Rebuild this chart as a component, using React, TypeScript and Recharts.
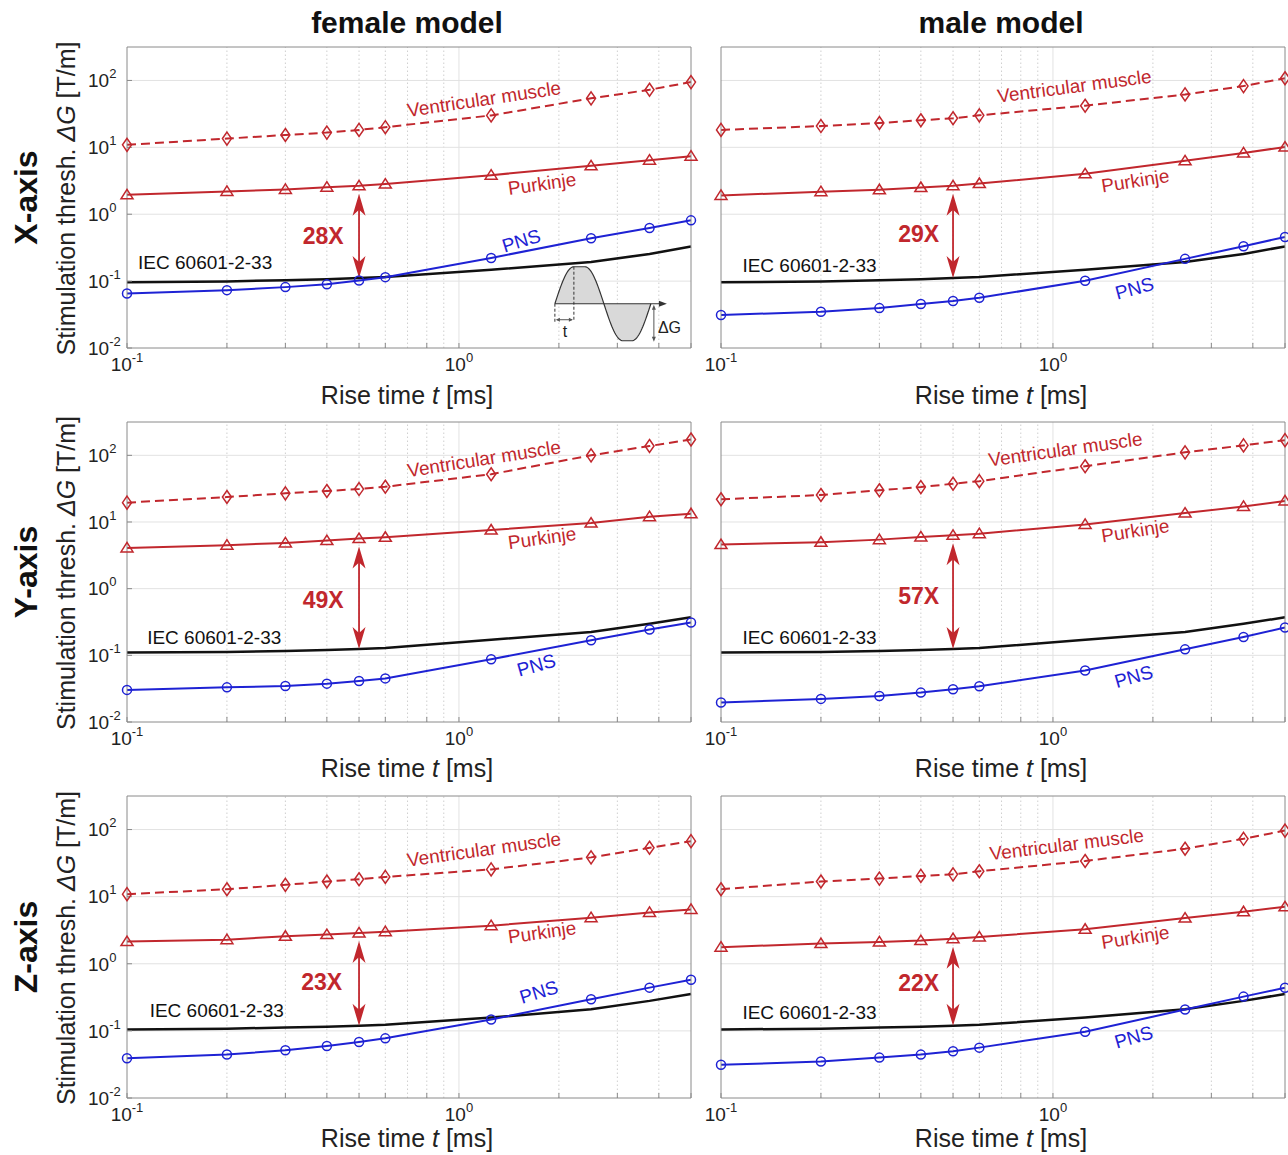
import React from 'react';
import { LineChart, Line, XAxis, YAxis, ReferenceLine, ReferenceDot } from 'recharts';

// rise time t [ms]
const riseTime = [0.1, 0.2, 0.3, 0.4, 0.5, 0.6, 1.25, 2.5, 3.75, 5];

// X-axis gradient coil
const femaleXVentricular = [10.9, 13.5, 15.3, 16.6, 18.2, 20.0, 30.0, 54.0, 72.6, 94.5];
const femaleXPurkinje = [1.95, 2.19, 2.35, 2.54, 2.66, 2.82, 3.84, 5.29, 6.43, 7.37];
const femaleXPns = [0.0654, 0.0733, 0.0813, 0.09, 0.102, 0.1146, 0.222, 0.436, 0.622, 0.81];
const maleXVentricular = [18.2, 20.8, 23.1, 25.4, 27.2, 30.1, 41.9, 61.8, 82.4, 108];
const maleXPurkinje = [1.91, 2.17, 2.32, 2.51, 2.66, 2.88, 4.02, 6.28, 8.26, 10.1];
const maleXPns = [0.0311, 0.0349, 0.0395, 0.0454, 0.0503, 0.0564, 0.101, 0.215, 0.332, 0.457];
const iecX = [0.096, 0.099, 0.103, 0.107, 0.111, 0.115, 0.148, 0.193, 0.255, 0.33];

// Y-axis gradient coil
const femaleYVentricular = [19.5, 23.7, 26.9, 29.2, 31.2, 33.8, 52.1, 100, 138, 173];
const femaleYPurkinje = [4.09, 4.49, 4.86, 5.27, 5.64, 5.9, 7.59, 9.64, 12.0, 13.3];
const femaleYPns = [0.0303, 0.0331, 0.0347, 0.0376, 0.0412, 0.0451, 0.0875, 0.168, 0.244, 0.31];
const maleYVentricular = [21.9, 25.4, 29.9, 33.4, 37.5, 41.0, 68.6, 111, 141, 169];
const maleYPurkinje = [4.59, 4.97, 5.44, 5.97, 6.31, 6.68, 9.2, 13.6, 17.1, 20.7];
const maleYPns = [0.0196, 0.0222, 0.0246, 0.0276, 0.031, 0.0343, 0.0593, 0.123, 0.188, 0.262];
const iecY = [0.11, 0.112, 0.116, 0.12, 0.124, 0.129, 0.171, 0.223, 0.297, 0.372];

// Z-axis gradient coil
const femaleZVentricular = [10.9, 12.9, 15.0, 16.8, 18.2, 19.7, 25.5, 38.5, 53.5, 67.1];
const femaleZPurkinje = [2.14, 2.29, 2.57, 2.72, 2.88, 3.01, 3.7, 4.86, 5.82, 6.45];
const femaleZPns = [0.0392, 0.0444, 0.0514, 0.0596, 0.0684, 0.0774, 0.148, 0.296, 0.441, 0.579];
const maleZVentricular = [12.9, 16.8, 18.6, 20.4, 21.5, 23.9, 34.0, 51.8, 72.8, 96.6];
const maleZPurkinje = [1.77, 2.0, 2.12, 2.22, 2.37, 2.51, 3.27, 4.8, 5.96, 7.06];
const maleZPns = [0.0312, 0.0349, 0.04, 0.0443, 0.0497, 0.0563, 0.0973, 0.208, 0.324, 0.44];
const iecZ = [0.105, 0.108, 0.112, 0.115, 0.119, 0.123, 0.158, 0.21, 0.28, 0.355];

const marginFactors = ['28X', '29X', '49X', '57X', '23X', '22X'];
const columnTitles = ['female model', 'male model'];
const rowTitles = ['X-axis', 'Y-axis', 'Z-axis'];

const xTicks = [0.1, 0.2, 0.3, 0.4, 0.5, 0.6, 0.7, 0.8, 0.9, 1, 2, 3, 4, 5];
const xMinorGrid = [0.2, 0.3, 0.4, 0.5, 0.6, 0.7, 0.8, 0.9, 2, 3, 4];
const yTicks = [0.01, 0.1, 1, 10, 100];
const xDomain = [0.1, 5];
const yDomain = [0.01, 316.2];

const RED = '#c1272d';
const BLUE = '#1e22d4';
const BLACK = '#111';
const AXIS = '#8a8a8a';
const FONT = '"Liberation Sans", Arial, Helvetica, sans-serif';

const colPlotLeft = [127, 721];
const rowPlotTop = [47, 422, 796];
const rowPlotHeight = [301, 300, 302];
const xLabelBaseline = [404, 777, 1147];
const PLOT_W = 564;
// plot area starts at 70/10; the 1px axes sit inside these offsets
const M = { top: 9, right: 9, bottom: 39, left: 69 };
const PL = 70;
const PT = 10;

// label anchors in data coordinates, one entry per panel
const labelAnchors = [
  { vent: [1.19, 52.6, -8.5], purk: [1.78, 2.85, -8], pns: [1.54, 0.4, -17], iec: [0.108, 0.189], factor: [0.39, 0.48] },
  { vent: [1.16, 82, -7.5], purk: [1.77, 3.16, -9], pns: [1.76, 0.078, -15], iec: [0.116, 0.17], factor: [0.394, 0.51] },
  { vent: [1.19, 89, -9], purk: [1.78, 5.75, -8], pns: [1.71, 0.071, -16], iec: [0.115, 0.187], factor: [0.39, 0.68] },
  { vent: [1.09, 123, -8], purk: [1.77, 7.4, -9], pns: [1.75, 0.048, -16], iec: [0.116, 0.187], factor: [0.394, 0.77] },
  { vent: [1.19, 50.6, -8], purk: [1.78, 2.94, -8], pns: [1.74, 0.38, -17], iec: [0.117, 0.204], factor: [0.386, 0.54] },
  { vent: [1.1, 60, -7], purk: [1.77, 2.48, -9], pns: [1.75, 0.081, -16], iec: [0.116, 0.186], factor: [0.394, 0.51] },
];

const panels = [
  { vent: femaleXVentricular, purk: femaleXPurkinje, pns: femaleXPns, iec: iecX },
  { vent: maleXVentricular, purk: maleXPurkinje, pns: maleXPns, iec: iecX },
  { vent: femaleYVentricular, purk: femaleYPurkinje, pns: femaleYPns, iec: iecY },
  { vent: maleYVentricular, purk: maleYPurkinje, pns: maleYPns, iec: iecY },
  { vent: femaleZVentricular, purk: femaleZPurkinje, pns: femaleZPns, iec: iecZ },
  { vent: maleZVentricular, purk: maleZPurkinje, pns: maleZPns, iec: iecZ },
];

const isDecade = (v: number) => {
  const l = Math.log10(v);
  return Math.abs(l - Math.round(l)) < 1e-6;
};

const diamondDot = (p: any) => (
  <path
    key={`dm${p.index}`}
    d={`M${p.cx},${p.cy - 6.5}L${p.cx + 4.5},${p.cy}L${p.cx},${p.cy + 6.5}L${p.cx - 4.5},${p.cy}Z`}
    fill="none"
    stroke={RED}
    strokeWidth={1.5}
  />
);

const triangleDot = (p: any) => (
  <path
    key={`tr${p.index}`}
    d={`M${p.cx},${p.cy - 5.5}L${p.cx + 6},${p.cy + 4}L${p.cx - 6},${p.cy + 4}Z`}
    fill="none"
    stroke={RED}
    strokeWidth={1.5}
  />
);

const circleDot = (p: any) => (
  <circle key={`c${p.index}`} cx={p.cx} cy={p.cy} r={4.5} fill="none" stroke={BLUE} strokeWidth={1.5} />
);

function DoubleArrow(p: any) {
  const x = p.x1;
  const top = Math.min(p.y1, p.y2) + 8;
  const bot = Math.max(p.y1, p.y2);
  const len = 22;
  return (
    <g>
      <line x1={x} y1={top + 12} x2={x} y2={bot - 12} stroke={RED} strokeWidth={1.8} />
      <path d={`M${x},${top}L${x + 6.5},${top + len}L${x},${top + 16}L${x - 6.5},${top + len}Z`} fill={RED} />
      <path d={`M${x},${bot}L${x + 6.5},${bot - len}L${x},${bot - 16}L${x - 6.5},${bot - len}Z`} fill={RED} />
    </g>
  );
}

function wavePath() {
  const A = 37;
  const pts: string[] = [];
  for (let s = 0; s <= 19; s++) pts.push(`${s},${-A * Math.sin((Math.PI / 2) * (s / 19))}`);
  for (let s = 0; s <= 38; s++) pts.push(`${30 + s},${-A * Math.cos((Math.PI * s) / 38)}`);
  for (let s = 0; s <= 19; s++) pts.push(`${77 + s},${A * Math.cos((Math.PI / 2) * (s / 19))}`);
  return 'M' + pts.join('L');
}

function Inset(p: any) {
  const { cx, cy } = p;
  const d = wavePath();
  return (
    <g transform={`translate(${cx},${cy})`} fontFamily={FONT}>
      <path d={d + 'Z'} fill="#d9d9d9" stroke="none" />
      <path d={d} fill="none" stroke="#333" strokeWidth={1.2} />
      <line x1={0} y1={0} x2={106} y2={0} stroke="#333" strokeWidth={1.2} />
      <path d="M112,0L104,-3L104,3Z" fill="#333" />
      <line x1={0} y1={0} x2={0} y2={18} stroke="#333" strokeWidth={1} strokeDasharray="3 2" />
      <line x1={19} y1={-37} x2={19} y2={18} stroke="#333" strokeWidth={1} strokeDasharray="3 2" />
      <line x1={2} y1={16} x2={17} y2={16} stroke="#555" strokeWidth={1} />
      <path d="M1,16L5,14L5,18Z M18,16L14,14L14,18Z" fill="#555" />
      <text x={10} y={33} fontSize={16} textAnchor="middle" fill="#222">t</text>
      <line x1={99} y1={4} x2={99} y2={34} stroke="#555" strokeWidth={1} />
      <path d="M99,1L97,6L101,6Z M99,38L97,33L101,33Z" fill="#555" />
      <text x={103} y={29} fontSize={16} fill="#222">ΔG</text>
    </g>
  );
}

const textDot = (label: string, color: string, rot: number, anchor: string, size: number, weight = 'normal') =>
  (p: any) => (
    <text
      x={p.cx}
      y={p.cy}
      transform={`rotate(${rot} ${p.cx} ${p.cy})`}
      textAnchor={anchor}
      dominantBaseline="central"
      fontSize={size}
      fontWeight={weight}
      fontFamily={FONT}
      fill={color}
    >
      {label}
    </text>
  );

function Panel({ idx }: { idx: number }) {
  const row = Math.floor(idx / 2);
  const col = idx % 2;
  const spec = panels[idx];
  const anchors = labelAnchors[idx];
  const plotH = rowPlotHeight[row];
  const plotBottom = PT + plotH;
  const data = riseTime.map((t, i) => ({
    t,
    vent: spec.vent[i],
    purk: spec.purk[i],
    pns: spec.pns[i],
    iec: spec.iec[i],
  }));

  const xTick = (p: any) => {
    const v = p.payload.value;
    if (!isDecade(v)) return <g />;
    return (
      <text x={p.x} y={plotBottom + 23} textAnchor="middle" fontSize={19} fontFamily={FONT} fill="#222">
        10<tspan dy={-9} fontSize={13}>{Math.round(Math.log10(v))}</tspan>
      </text>
    );
  };
  const yTick = (p: any) => (
    <text x={PL - 39} y={p.y + 6.8} textAnchor="start" fontSize={19} fontFamily={FONT} fill="#222">
      10<tspan dy={-9} fontSize={13}>{Math.round(Math.log10(p.payload.value))}</tspan>
    </text>
  );

  const axisCommon = {
    type: 'number' as const,
    scale: 'log' as const,
    axisLine: { stroke: AXIS },
    tickLine: { stroke: AXIS },
    tickSize: -5,
    tickMargin: 0,
  };

  return (
    <div style={{ position: 'absolute', left: colPlotLeft[col] - PL, top: rowPlotTop[row] - PT }}>
      <LineChart width={PLOT_W + PL + 10} height={plotH + PT + 40} data={data} margin={M}>
        <XAxis {...axisCommon} dataKey="t" domain={xDomain} ticks={xTicks} tick={xTick} height={1} />
        <XAxis {...axisCommon} xAxisId="top" orientation="top" dataKey="t" domain={xDomain} ticks={xTicks} tick={false} height={1} />
        <YAxis {...axisCommon} domain={yDomain} ticks={yTicks} tick={col === 0 ? yTick : false} width={1} />
        <YAxis {...axisCommon} yAxisId="r" orientation="right" domain={yDomain} ticks={yTicks} tick={false} width={1} />

        {xMinorGrid.map((v) => (
          <ReferenceLine key={`gx${v}`} x={v} stroke="#cfcfcf" strokeDasharray="1.5 2.5" />
        ))}
        <ReferenceLine x={1} stroke="#e2e2e2" />
        {yTicks.slice(1).map((v) => (
          <ReferenceLine key={`gy${v}`} y={v} stroke="#e2e2e2" />
        ))}

        {idx === 0 && <ReferenceDot x={1.945} y={0.0459} r={0} shape={Inset} />}

        <Line dataKey="iec" stroke={BLACK} strokeWidth={2.5} dot={false} isAnimationActive={false} />
        <Line dataKey="pns" stroke={BLUE} strokeWidth={2} dot={circleDot} isAnimationActive={false} />
        <Line dataKey="purk" stroke={RED} strokeWidth={2} dot={triangleDot} isAnimationActive={false} />
        <Line
          dataKey="vent"
          stroke={RED}
          strokeWidth={2}
          strokeDasharray="9 5"
          dot={diamondDot}
          isAnimationActive={false}
        />

        <ReferenceLine
          segment={[
            { x: riseTime[4], y: spec.purk[4] },
            { x: riseTime[4], y: spec.iec[4] },
          ]}
          shape={DoubleArrow}
        />

        <ReferenceDot x={anchors.vent[0]} y={anchors.vent[1]} r={0}
          shape={textDot('Ventricular muscle', RED, anchors.vent[2], 'middle', 19)} />
        <ReferenceDot x={anchors.purk[0]} y={anchors.purk[1]} r={0}
          shape={textDot('Purkinje', RED, anchors.purk[2], 'middle', 19)} />
        <ReferenceDot x={anchors.pns[0]} y={anchors.pns[1]} r={0}
          shape={textDot('PNS', BLUE, anchors.pns[2], 'middle', 19)} />
        <ReferenceDot x={anchors.iec[0]} y={anchors.iec[1]} r={0}
          shape={textDot('IEC 60601-2-33', BLACK, 0, 'start', 19)} />
        <ReferenceDot x={anchors.factor[0]} y={anchors.factor[1]} r={0}
          shape={textDot(marginFactors[idx], RED, 0, 'middle', 23, 'bold')} />
      </LineChart>
    </div>
  );
}

export default function App() {
  return (
    <div style={{ position: 'absolute', left: 0, top: 0, width: 1288, height: 1155, background: '#fff' }}>
      <svg width={1288} height={1155} style={{ position: 'absolute', left: 0, top: 0 }} fontFamily={FONT}>
        {columnTitles.map((t, c) => (
          <text key={t} x={colPlotLeft[c] + PLOT_W / 2 - 2} y={33} textAnchor="middle" fontSize={30} fontWeight="bold" fill="#111">
            {t}
          </text>
        ))}
        {rowTitles.map((t, r) => {
          const cy = rowPlotTop[r] + rowPlotHeight[r] / 2;
          return (
            <g key={t}>
              <text x={26} y={cy} transform={`rotate(-90 26 ${cy})`} textAnchor="middle" dominantBaseline="central"
                fontSize={32} fontWeight="bold" fill="#111">
                {t}
              </text>
              <text x={66} y={cy + 1} transform={`rotate(-90 66 ${cy + 1})`} textAnchor="middle" dominantBaseline="central"
                fontSize={25} fill="#222">
                Stimulation thresh. <tspan fontStyle="italic">ΔG</tspan> [T/m]
              </text>
              {colPlotLeft.map((l, c) => (
                <text key={c} x={l + PLOT_W / 2 - 2} y={xLabelBaseline[r]} textAnchor="middle" fontSize={25} fill="#222">
                  Rise time <tspan fontStyle="italic">t</tspan> [ms]
                </text>
              ))}
            </g>
          );
        })}
      </svg>
      {panels.map((_, i) => (
        <Panel key={i} idx={i} />
      ))}
    </div>
  );
}
